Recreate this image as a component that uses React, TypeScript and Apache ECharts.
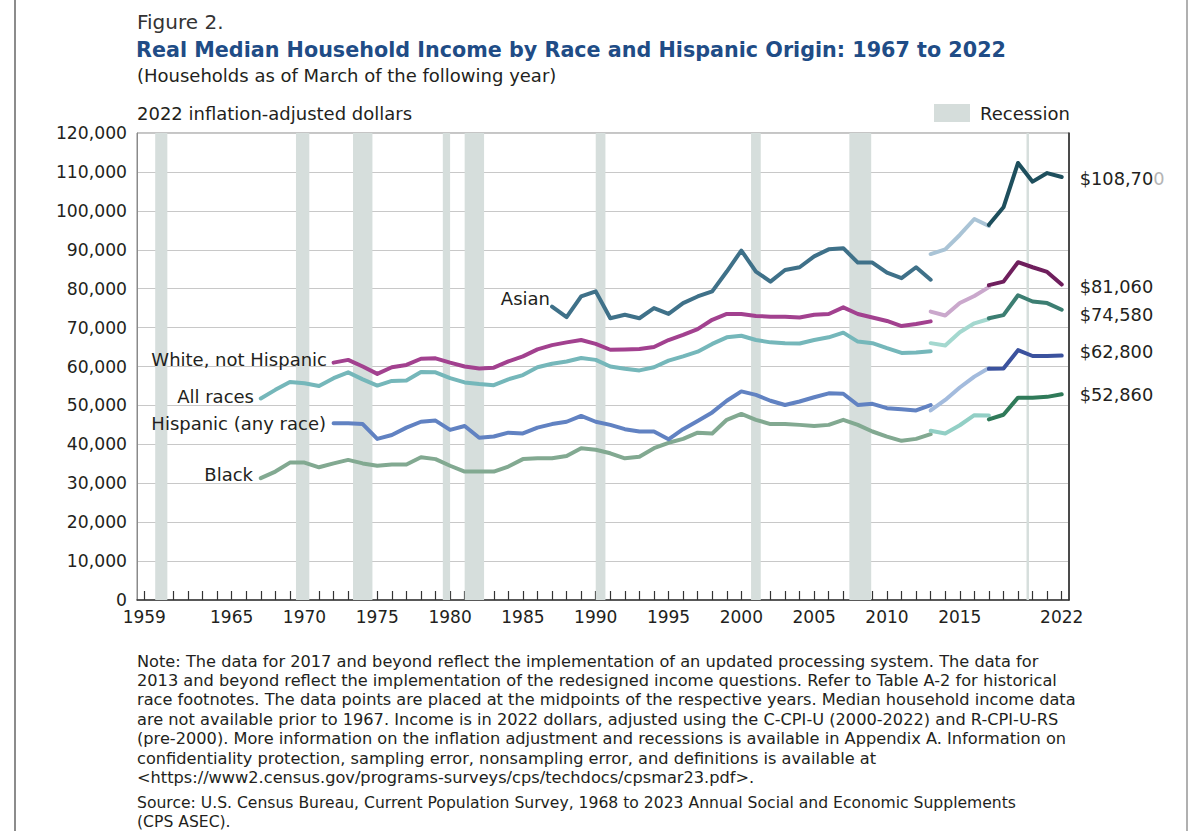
import React, { useEffect, useRef } from "react";
import * as echarts from "echarts";

// Real median household income, 2022 dollars.
// Each group has three segments: original questions (to 2013),
// redesigned questions (2013-2017) and updated processing system (2017+).
const allRacesEarlyStart = 1967;
const allRacesEarly = [
  51800, 54000, 56000, 55700, 55000, 57000, 58500, 56700, 55100, 56300,
  56400, 58600, 58500, 57000, 55900, 55500, 55200, 56700, 57800, 59800,
  60700, 61300, 62200, 61700, 60000, 59400, 59000, 59800, 61500, 62600,
  63800, 65800, 67500, 67900, 66800, 66200, 66000, 65900, 66800, 67500,
  68700, 66400, 66000, 64700, 63500, 63600, 63900,
];
const allRacesMid = [66000, 65400, 68800, 71100, 72200];
const allRacesLate = [72400, 73200, 78300, 76700, 76300, 74580];

const whiteEarlyStart = 1972;
const whiteEarly = [
  61000, 61700, 60000, 58100, 59800, 60400, 62000, 62100, 61000, 60000,
  59500, 59700, 61300, 62600, 64400, 65500, 66200, 66800, 65800, 64300,
  64400, 64500, 65000, 66800, 68100, 69600, 72000, 73500, 73500, 73000,
  72800, 72800, 72600, 73300, 73500, 75200, 73500, 72600, 71700, 70400,
  70900, 71600,
];
const whiteMid = [74100, 73100, 76300, 78100, 80400];
const whiteLate = [80900, 81800, 86800, 85500, 84300, 81060];

const asianEarlyStart = 1987;
const asianEarly = [
  75400, 72700, 78000, 79300, 72400, 73300, 72400, 75000, 73500, 76300,
  78000, 79300, 84400, 89800, 84400, 81800, 84800, 85500, 88300, 90100,
  90400, 86700, 86700, 84100, 82700, 85500, 82300,
];
const asianMid = [88900, 90100, 93800, 97900, 96100];
const asianLate = [96400, 100900, 112300, 107500, 109700, 108700];

const hispanicEarlyStart = 1972;
const hispanicEarly = [
  45400, 45400, 45200, 41400, 42400, 44300, 45800, 46100, 43700, 44700,
  41700, 42000, 43000, 42800, 44300, 45200, 45800, 47300, 45800, 45000,
  43900, 43300, 43300, 41300, 43900, 46000, 48200, 51200, 53600, 52700,
  51200, 50100, 51000, 52100, 53100, 53000, 50100, 50400, 49300, 49000,
  48700, 50100,
];
const hispanicMid = [48700, 51400, 54600, 57400, 59600];
const hispanicLate = [59400, 59500, 64200, 62700, 62700, 62800];

const blackEarlyStart = 1967;
const blackEarly = [
  31300, 33000, 35300, 35300, 34100, 35100, 36000, 35100, 34500, 34800,
  34800, 36700, 36200, 34500, 33000, 33000, 33000, 34300, 36200, 36400,
  36400, 37000, 39000, 38600, 37700, 36400, 36800, 39000, 40400, 41400,
  43000, 42800, 46300, 47800, 46300, 45200, 45200, 45000, 44700, 45000,
  46300, 45000, 43300, 42000, 40900, 41400, 42600,
];
const blackMid = [43500, 42800, 44900, 47500, 47400];
const blackLate = [46400, 47600, 52000, 52000, 52200, 52860];

const midStart = 2013;
const lateStart = 2017;

// NBER recessions, peak and trough months.
const recessions: [string, string][] = [
  ["1960-04", "1961-02"],
  ["1969-12", "1970-11"],
  ["1973-11", "1975-03"],
  ["1980-01", "1980-07"],
  ["1981-07", "1982-11"],
  ["1990-07", "1991-03"],
  ["2001-03", "2001-11"],
  ["2007-12", "2009-06"],
  ["2020-02", "2020-04"],
];

const xTickYears = Array.from({ length: 64 }, (_, i) => 1959 + i);
const xLabelYears = [1959, 1965, 1970, 1975, 1980, 1985, 1990, 1995, 2000, 2005, 2010, 2015, 2022];

const noteLines = [
  "Note: The data for 2017 and beyond reflect the implementation of an updated processing system. The data for",
  "2013 and beyond reflect the implementation of the redesigned income questions. Refer to Table A-2 for historical",
  "race footnotes. The data points are placed at the midpoints of the respective years. Median household income data",
  "are not available prior to 1967. Income is in 2022 dollars, adjusted using the C-CPI-U (2000-2022) and R-CPI-U-RS",
  "(pre-2000). More information on the inflation adjustment and recessions is available in Appendix A. Information on",
  "confidentiality protection, sampling error, nonsampling error, and definitions is available at",
  "<https://www2.census.gov/programs-surveys/cps/techdocs/cpsmar23.pdf>.",
];
const sourceLines = [
  "Source: U.S. Census Bureau, Current Population Survey, 1968 to 2023 Annual Social and Economic Supplements",
  "(CPS ASEC).",
];

const FONT = "'DejaVu Sans', 'Open Sans', sans-serif";
const INK = "#231f20";

// Points sit at the midpoint of each year, so a calendar date maps to date - 0.5.
const monthToAxis = (s: string) => {
  const [y, m] = s.split("-").map(Number);
  return y + (m - 1) / 12 - 0.5;
};

const pairs = (start: number, values: number[]) => values.map((v, i) => [start + i, v]);

const money = (v: number) => "$" + v.toLocaleString("en-US");

function lineSeries(name: string, data: number[][], color: string, endLabel?: any) {
  return {
    name,
    type: "line",
    data,
    showSymbol: false,
    symbol: "none",
    z: 3,
    lineStyle: { color, width: 4, cap: "round", join: "round" },
    endLabel,
  };
}

function endLabel(dy: number, dim = false) {
  return {
    show: true,
    distance: 18,
    offset: [0, dy],
    fontFamily: FONT,
    fontSize: 17.8,
    color: INK,
    formatter: (p: any) => {
      const s = money(p.value[1]);
      return dim ? s.slice(0, -1) + "{g|" + s.slice(-1) + "}" : s;
    },
    rich: { g: { color: "#b5b5b5", fontFamily: FONT, fontSize: 17.8 } },
  };
}

export default function App() {
  const ref = useRef<HTMLDivElement>(null);

  useEffect(() => {
    const chart = echarts.init(ref.current!, undefined, { renderer: "svg" });

    const text = (t: string, x: number, y: number, font: string, extra: any = {}) => ({
      type: "text",
      x,
      y,
      z: 100,
      style: { text: t, font, fill: INK, verticalAlign: "middle", ...extra },
    });

    const seriesLabel = (t: string, right: number, y: number) =>
      text(t, right, y, `18px ${FONT}`, { align: "right" });

    const graphic: any[] = [
      { type: "line", z: 100, shape: { x1: 15, y1: 0, x2: 15, y2: 831 }, style: { stroke: "#8c8c8c", lineWidth: 2 } },
      { type: "line", z: 100, shape: { x1: 1187, y1: 0, x2: 1187, y2: 831 }, style: { stroke: "#b0b0b0", lineWidth: 2 } },
      text("Figure 2.", 137, 22, `20px ${FONT}`, { fill: "#333" }),
      text(
        "Real Median Household Income by Race and Hispanic Origin: 1967 to 2022",
        136, 50, `bold 20.7px ${FONT}`, { fill: "#204c86" },
      ),
      text("(Households as of March of the following year)", 137, 75, `18px ${FONT}`),
      text("2022 inflation-adjusted dollars", 137, 113, `18px ${FONT}`),
      { type: "rect", z: 100, shape: { x: 934, y: 104, width: 36, height: 18 }, style: { fill: "#d5dddb" } },
      text("Recession", 980, 113, `18px ${FONT}`),
      seriesLabel("Asian", 550, 298),
      seriesLabel("White, not Hispanic", 327, 359),
      seriesLabel("All races", 254, 396),
      seriesLabel("Hispanic (any race)", 326, 423),
      seriesLabel("Black", 253, 474),
      ...noteLines.map((t, i) => text(t, 137, 661 + i * 19.4, `16.2px ${FONT}`)),
      ...sourceLines.map((t, i) => text(t, 137, 803 + i * 18.5, `15.6px ${FONT}`)),
    ];

    const option: any = {
      animation: false,
      backgroundColor: "#ffffff",
      grid: {
        left: 137, right: 131, top: 133, bottom: 231,
        show: true, borderColor: "#8a8a8a", borderWidth: 1,
      },
      xAxis: {
        type: "value",
        min: 1958.5,
        max: 2022.5,
        splitLine: { show: false },
        axisLine: { show: true, onZero: false, lineStyle: { color: "#333", width: 1.5 } },
        axisTick: {
          show: true, inside: true, length: 9,
          customValues: xTickYears,
          lineStyle: { color: "#333", width: 1.2 },
        },
        axisLabel: {
          customValues: xLabelYears,
          formatter: (v: number) => String(v),
          fontFamily: FONT, fontSize: 17, color: INK, margin: 8,
        },
      },
      yAxis: [
        {
          type: "value",
          min: 0,
          max: 120000,
          interval: 10000,
          axisLine: { show: true, lineStyle: { color: "#8a8a8a" } },
          axisTick: { show: false },
          splitLine: { show: true, lineStyle: { color: "#c8c8c8", width: 1 } },
          axisLabel: { fontFamily: FONT, fontSize: 17.2, color: INK, margin: 10 },
        },
        {
          type: "value",
          position: "right",
          min: 0,
          max: 120000,
          axisLine: { show: true, lineStyle: { color: "#222", width: 1.5 } },
          axisTick: { show: false },
          axisLabel: { show: false },
          splitLine: { show: false },
        },
      ],
      graphic,
      series: [
        {
          name: "Recession",
          type: "line",
          data: [],
          z: 1,
          silent: true,
          markArea: {
            silent: true,
            itemStyle: { color: "#d6dedc" },
            data: recessions.map(([a, b]) => [{ xAxis: monthToAxis(a) }, { xAxis: monthToAxis(b) }]),
          },
        },
        lineSeries("Black", pairs(blackEarlyStart, blackEarly), "#82a991"),
        lineSeries("Black 2013", pairs(midStart, blackMid), "#92cfc5"),
        lineSeries("Black 2017", pairs(lateStart, blackLate), "#2f7a59", endLabel(0)),
        lineSeries("Hispanic", pairs(hispanicEarlyStart, hispanicEarly), "#6182c2"),
        lineSeries("Hispanic 2013", pairs(midStart, hispanicMid), "#a3bbdd"),
        lineSeries("Hispanic 2017", pairs(lateStart, hispanicLate), "#3b529e", endLabel(-4)),
        lineSeries("All races", pairs(allRacesEarlyStart, allRacesEarly), "#75b7ba"),
        lineSeries("All races 2013", pairs(midStart, allRacesMid), "#a4d8cf"),
        lineSeries("All races 2017", pairs(lateStart, allRacesLate), "#3c7e72", endLabel(5)),
        lineSeries("White, not Hispanic", pairs(whiteEarlyStart, whiteEarly), "#a2418f"),
        lineSeries("White 2013", pairs(midStart, whiteMid), "#caa8cc"),
        lineSeries("White 2017", pairs(lateStart, whiteLate), "#6f1f5d", endLabel(2)),
        lineSeries("Asian", pairs(asianEarlyStart, asianEarly), "#3f7189"),
        lineSeries("Asian 2013", pairs(midStart, asianMid), "#aac4d6"),
        lineSeries("Asian 2017", pairs(lateStart, asianLate), "#1e4f5d", endLabel(2, true)),
      ],
    };

    chart.setOption(option);
    return () => chart.dispose();
  }, []);

  return (
    <div
      ref={ref}
      style={{ position: "fixed", left: 0, top: 0, width: 1200, height: 831, background: "#fff" }}
    />
  );
}
